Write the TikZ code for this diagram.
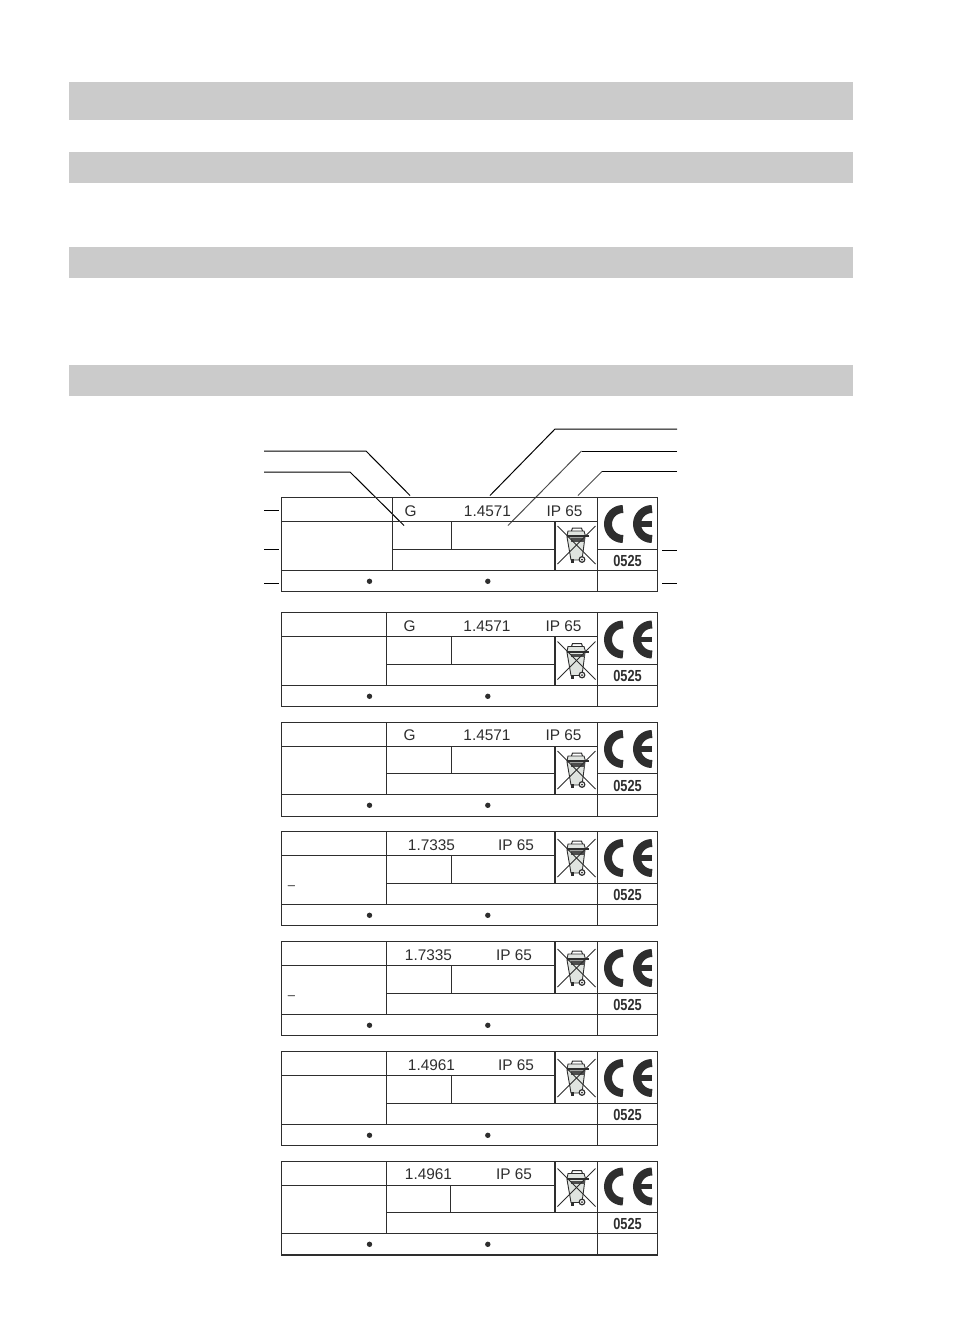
\documentclass[tikz,border=0pt]{standalone}
\usepackage{fontspec}
\setmainfont{Liberation Sans}
\definecolor{ink}{HTML}{2E2E2E}
\definecolor{barfill}{HTML}{CBCBCB}
\definecolor{binfill}{HTML}{E0E4E0}
\tikzset{
  bar/.style={fill=barfill,draw=none},
  rule/.style={draw=ink,line width=1.15pt},
  leader/.style={draw=black,line width=1pt},
  leadergrey/.style={draw=black!70,line width=1pt},
  plate/.style={inner sep=0pt,text=ink,font=\fontsize{15.4}{18}\selectfont},
  codetext/.style={inner sep=0pt,text=ink,font=\fontsize{16}{18}\selectfont\bfseries,xscale=0.8,transform shape},
  shortdash/.style={inner sep=0pt,text=ink,font=\fontsize{13}{14}\selectfont},
}
\newcommand\cemark[2]{%
  \begin{scope}[shift={(#1,#2)}]
    \draw[ink,line width=8pt] (-2,-15) arc[start angle=270,end angle=90,radius=15];
    \draw[ink,line width=8pt] (27,-15) arc[start angle=270,end angle=90,radius=15];
    \draw[ink,line width=5.5pt] (14,0) -- (27,0);
  \end{scope}}
\newcommand\wastebin[2]{%
  \begin{scope}[shift={(#1,#2)}]
    \fill[binfill,draw=ink,line width=0.9pt] (-9.5,-8) -- (8.5,-8) -- (5.5,15) -- (-5.5,15) -- cycle;
    \fill[binfill,draw=ink,line width=0.9pt] (-8.5,-14) -- (7.5,-14) -- (9,-9) -- (-9.5,-9) -- cycle;
    \fill[ink] (-10,-9.8) rectangle (12,-7.6);
    \fill[ink!85] (-6,-7) rectangle (8,-3.5);
    \draw[ink,line width=1pt] (-5,-14) -- (-4,-17) -- (5,-17) -- (6,-14);
    \fill[ink] (-6,14) rectangle (-2.5,18);
    \fill[white,draw=ink,line width=1.2pt] (5.5,14.5) circle[radius=2.8];
    \fill[ink] (5.5,14.5) circle[radius=1];
    \draw[ink,line width=1pt] (-19,-19) -- (19,19);
    \draw[ink,line width=1pt] (19,-19) -- (-19,19);
  \end{scope}}
% #1 top #2 r1 #3 r2 #4 r3 #5 bottom #6 outer split #7 inner split
\newcommand\plateframe[7]{%
  \draw[rule] (281.5,#1) rectangle (657.5,#5);
  \draw[rule] (597.5,#1) -- (597.5,#5);
  \draw[rule] (#6,#1) -- (#6,#4);
  \draw[rule] (281.5,#4) -- (657.5,#4);
  \draw[rule] (#7,#2) -- (#7,#3);
  \fill[ink] (369.5,#4+10.8) circle[radius=2.7];
  \fill[ink] (487.8,#4+10.8) circle[radius=2.7];
}
\newcommand\platewide[7]{%
  \plateframe{#1}{#2}{#3}{#4}{#5}{#6}{#7}
  \draw[rule] (281.5,#2) -- (597.5,#2);
  \draw[rule] (#6,#3) -- (555,#3);
  \draw[rule] (597.5,#3) -- (657.5,#3);
  \draw[rule] (555,#2) -- (555,#4);
}
\newcommand\platetall[7]{%
  \plateframe{#1}{#2}{#3}{#4}{#5}{#6}{#7}
  \draw[rule] (281.5,#2) -- (555,#2);
  \draw[rule] (#6,#3) -- (657.5,#3);
  \draw[rule] (555,#1) -- (555,#3);
}
\begin{document}
\begin{tikzpicture}[x=1pt,y=-1pt]
\useasboundingbox (0,0) rectangle (954,1344);
\fill[bar] (69,82) rectangle (853,120);
\fill[bar] (69,152) rectangle (853,183);
\fill[bar] (69,247) rectangle (853,278);
\fill[bar] (69,365) rectangle (853,396);

% leaders
\coordinate (a0) at (264,451); \coordinate (a1) at (366,451); \coordinate (a2) at (410,495.5);
\coordinate (b0) at (264,472); \coordinate (b1) at (350,472); \coordinate (b2) at (404,525.5);
\coordinate (c0) at (677,429); \coordinate (c1) at (555,429); \coordinate (c2) at (490,495.5);
\coordinate (d0) at (677,451); \coordinate (d1) at (581.5,451); \coordinate (d2) at (508,525.5);
\coordinate (e0) at (677,471.5); \coordinate (e1) at (602,471.5); \coordinate (e2) at (578,495.5);
\draw[leader] (a0) -- (a1) -- (a2);
\draw[leader] (b0) -- (b1) -- (b2);
\draw[leader] (c0) -- (c1) -- (c2);
\draw[leader] (d0) -- (d1);
\draw[leadergrey] (d1) -- (d2);
\draw[leader] (e0) -- (e1);
\draw[leadergrey] (e1) -- (e2);
\coordinate (f0) at (264,510); \coordinate (f1) at (279,510);
\coordinate (g0) at (264,549); \coordinate (g1) at (279,549);
\coordinate (h0) at (264,583); \coordinate (h1) at (279,583);
\coordinate (i0) at (662,550); \coordinate (i1) at (677,550);
\coordinate (j0) at (662,583); \coordinate (j1) at (677,583);
\draw[leader] (f0) -- (f1);
\draw[leader] (g0) -- (g1);
\draw[leader] (h0) -- (h1);
\draw[leader] (i0) -- (i1);
\draw[leader] (j0) -- (j1);

% plate 1
\platewide{497.5}{521.5}{549.5}{570.5}{591.5}{392.5}{451.5}
\node[plate] (g1t) at (410.5,511) {G};
\node[plate] (m1t) at (487.5,511) {1.4571};
\node[plate] (p1t) at (564.5,511) {IP 65};
\wastebin{576.5}{545}
\cemark{625}{524}
\node[codetext] (c1t) at (627.5,560.5) {0525};

% plate 2
\platewide{612.5}{636.5}{664.5}{685.5}{706.5}{386.5}{451.5}
\node[plate] (g2t) at (409.5,626) {G};
\node[plate] (m2t) at (487,626) {1.4571};
\node[plate] (p2t) at (563.5,626) {IP 65};
\wastebin{576.5}{660.5}
\cemark{625}{639.5}
\node[codetext] (c2t) at (627.5,675.5) {0525};

% plate 3
\platewide{722.5}{746.5}{773.5}{794.5}{816.5}{386.5}{451.5}
\node[plate] (g3t) at (409.5,735.5) {G};
\node[plate] (m3t) at (487,735.5) {1.4571};
\node[plate] (p3t) at (563.5,735.5) {IP 65};
\wastebin{576.5}{770}
\cemark{625}{749}
\node[codetext] (c3t) at (627.5,785.5) {0525};

% plate 4
\platetall{831.5}{855.5}{883.5}{904.5}{925.5}{386.5}{451.5}
\node[plate] (m4t) at (431.5,845) {1.7335};
\node[plate] (p4t) at (516,845) {IP 65};
\wastebin{576.5}{858}
\cemark{625}{858}
\node[codetext] (c4t) at (627.5,894.5) {0525};
\node[shortdash] (d4t) at (291.5,887.5) {–};

% plate 5
\platetall{941.5}{965.5}{993.5}{1014.5}{1035.5}{386.5}{451.5}
\node[plate] (m5t) at (428.5,955) {1.7335};
\node[plate] (p5t) at (514,955) {IP 65};
\wastebin{576.5}{968}
\cemark{625}{968}
\node[codetext] (c5t) at (627.5,1004.5) {0525};
\node[shortdash] (d5t) at (291.5,997.5) {–};

% plate 6
\platetall{1051.5}{1075.5}{1103.5}{1124.5}{1145.5}{386.5}{451.5}
\node[plate] (m6t) at (431.5,1065) {1.4961};
\node[plate] (p6t) at (516,1065) {IP 65};
\wastebin{576.5}{1078}
\cemark{625}{1078}
\node[codetext] (c6t) at (627.5,1114.5) {0525};

% plate 7
\platetall{1161.5}{1185.5}{1212.5}{1233.5}{1255}{386.5}{450.5}
\node[plate] (m7t) at (428.5,1174.5) {1.4961};
\node[plate] (p7t) at (514,1174.5) {IP 65};
\wastebin{576.5}{1187.5}
\cemark{625}{1186.5}
\node[codetext] (c7t) at (627.5,1224) {0525};
\end{tikzpicture}
\end{document}
